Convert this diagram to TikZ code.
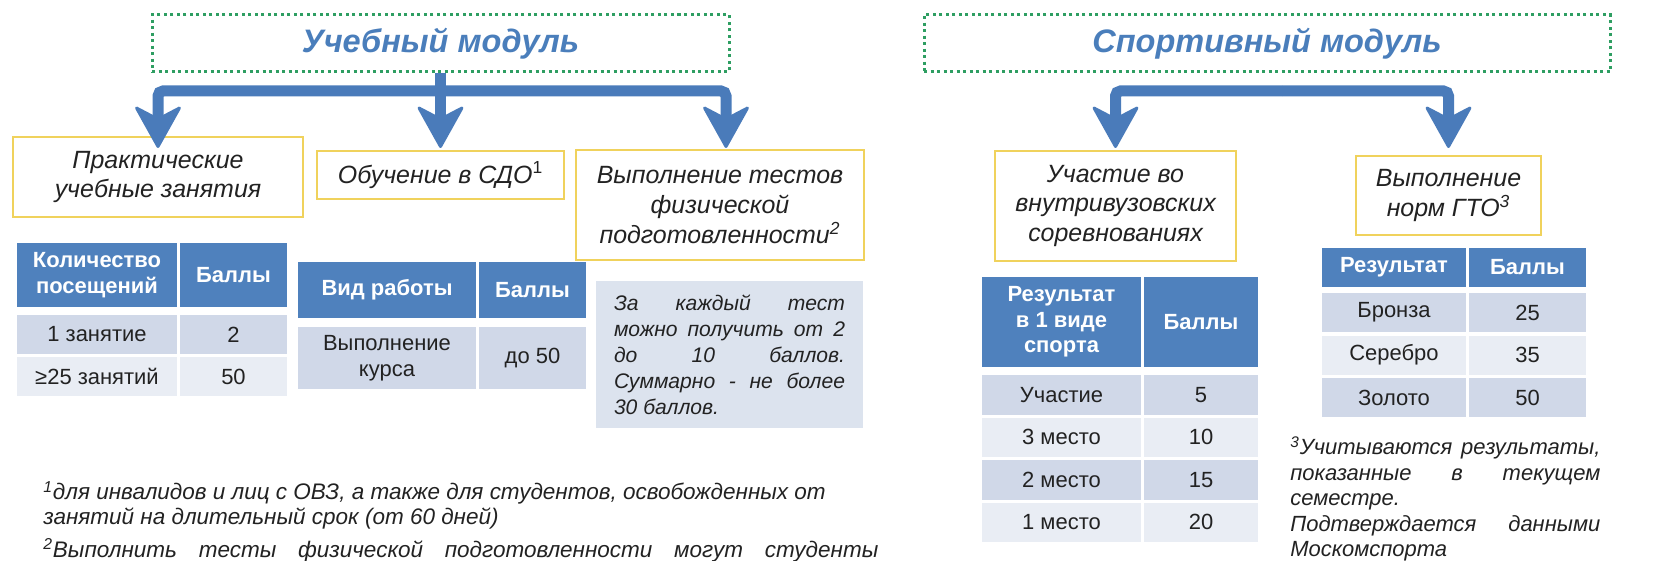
\documentclass[tikz,border=0pt]{standalone}
\usepackage{fontspec}
\setmainfont{Liberation Sans}
\usepackage{xcolor}
\usetikzlibrary{arrows.meta}

\definecolor{modblue}{HTML}{4A7EBB}
\definecolor{arrblue}{HTML}{4A7BBA}
\definecolor{dotgreen}{HTML}{2E9E62}
\definecolor{boxyellow}{HTML}{F0D25C}
\definecolor{hdrblue}{HTML}{4F81BD}
\definecolor{rowdark}{HTML}{D0D8E8}
\definecolor{rowlight}{HTML}{E9EDF4}
\definecolor{notegrey}{HTML}{DCE3EE}
\definecolor{ink}{HTML}{222222}

\begin{document}
\begin{tikzpicture}[x=0.2mm, y=-0.2mm,
	wh/.style 2 args={minimum width=#1*0.2mm, minimum height=#2*0.2mm},
	modbox/.style={draw=dotgreen, line width=0.6mm, dash pattern=on 0.6mm off 0.7mm, text=modblue, inner sep=0pt, font=\bfseries\itshape\fontsize{18.5}{21}\selectfont},
	itembox/.style={draw=boxyellow, line width=0.5mm, fill=white, text=ink, align=center, inner sep=0pt, font=\itshape\fontsize{14.2}{17}\selectfont},
	hcell/.style={fill=hdrblue, text=white, align=center, inner sep=0pt, font=\bfseries\fontsize{12.5}{14.5}\selectfont},
	bcell/.style={text=ink, align=center, inner sep=0pt, font=\fontsize{12.5}{14.5}\selectfont},
	notebox/.style={fill=notegrey, text=ink, text width=46.2mm, align=justify, inner sep=0pt, font=\itshape\fontsize{12}{14.8}\selectfont},
	footnote/.style={text=ink, inner sep=0pt, font=\itshape\fontsize{12.8}{13.8}\selectfont},
	bararrow/.style={draw=arrblue, line width=2.2mm, rounded corners=1mm, -{Stealth[length=9mm, width=10mm, inset=2.6mm, round, line width=0.6mm]}}]
		\useasboundingbox (0,0) rectangle (1653,561);
		\clip (0,0) rectangle (1653,561);
		% modules
		\node[modbox, wh={577}{57}] (lm) at (440.5,43.5) {Учебный модуль};
		\node[modbox, wh={686}{57}] (rm) at (1267,43.5) {Спортивный модуль};
		% kinds of work
		\node[itembox, wh={290}{80}] (p1) at (158,177) {Практические\\учебные занятия};
		\node[itembox, wh={247}{48}] (p2) at (440.5,175) {Обучение в СДО\textsuperscript{\upshape 1}};
		\node[itembox, wh={288}{110}] (p3) at (720,205) {Выполнение тестов\\физической\\подготовленности\textsuperscript{2}};
		\node[itembox, wh={241}{110}] (s1) at (1115.5,206) {Участие во\\внутривузовских\\соревнованиях};
		\node[itembox, wh={185}{79}] (s2) at (1448.5,195.5) {Выполнение\\норм ГТО\textsuperscript{3}};
		% arrows
		\coordinate (tips) at (0,148);
		\coordinate (lbar) at (440.5,91);
		\coordinate (rbar) at (1282,91);
		\draw[bararrow] (lm.south) -- (p2 |- tips);
		\draw[bararrow] (lbar) -| (p1 |- tips);
		\draw[bararrow] (lbar) -| ([xshift=1.2mm]p3.north |- tips);
		\draw[bararrow] (rbar) -| (s1 |- tips);
		\draw[bararrow] (rbar) -| (s2 |- tips);
		% table: visits
		\node[hcell, wh={160}{64}] (va) at (97,275) {Количество\\посещений};
		\node[hcell, wh={107}{64}] (vb) at (233.5,275) {Баллы};
		\node[bcell, fill=rowdark, wh={160}{39}] (va1) at (97,334.5) {1 занятие};
		\node[bcell, fill=rowdark, wh={107}{39}] (vb1) at (233.5,334.5) {2};
		\node[bcell, fill=rowlight, wh={160}{39}] (va2) at (97,376.5) {≥25 занятий};
		\node[bcell, fill=rowlight, wh={107}{39}] (vb2) at (233.5,376.5) {50};
		% table: distance course
		\node[hcell, wh={178}{56}] (ka) at (387,290) {Вид работы};
		\node[hcell, wh={107}{56}] (kb) at (532.5,290) {Баллы};
		\node[bcell, fill=rowdark, wh={178}{62}] (ka1) at (387,358) {Выполнение\\курса};
		\node[bcell, fill=rowdark, wh={107}{62}] (kb1) at (532.5,358) {до 50};
		% note on tests
		\node[notebox, wh={267}{147}] (tn) at (729.5,354.5) {За каждый тест\linebreak можно получить от 2\linebreak до 10 баллов.\linebreak Суммарно - не более\linebreak 30 баллов.};
		% table: competitions
		\node[hcell, wh={159}{90}] (ca) at (1061.5,322) {Результат\\в 1 виде\\спорта};
		\node[hcell, wh={114}{90}] (cb) at (1201,322) {Баллы};
		\foreach \res/\pts [count=\i] in {Участие/5, 3 место/10, 2 место/15, 1 место/20}{
			\pgfmathsetmacro\ry{394.75+42.5*(\i-1)}
			\ifodd\i \def\rowfill{rowdark}\else \def\rowfill{rowlight}\fi
			\node[bcell, fill=\rowfill, wh={159}{39.5}] (ca\i) at (1061.5,\ry) {\res};
			\node[bcell, fill=\rowfill, wh={114}{39.5}] (cb\i) at (1201,\ry) {\pts};
		}
		% table: GTO
		\node[hcell, wh={144}{39}] (ga) at (1394,267.5) {Результат};
		\node[hcell, wh={117}{39}] (gb) at (1527.5,267.5) {Баллы};
		\foreach \res/\pts [count=\i] in {Бронза/25, Серебро/35, Золото/50}{
			\pgfmathsetmacro\ry{312.5+42.5*(\i-1)}
			\ifodd\i \def\rowfill{rowdark}\else \def\rowfill{rowlight}\fi
			\node[bcell, fill=\rowfill, wh={144}{39}] (ga\i) at (1394,\ry) {\res};
			\node[bcell, fill=\rowfill, wh={117}{39}] (gb\i) at (1527.5,\ry) {\pts};
		}
		% footnotes
		\node[footnote, anchor=north west, text width=62mm, align=justify, font=\itshape\fontsize{12.5}{14.5}\selectfont] (f3) at (1290,436) {\textsuperscript{3}Учитываются результаты,\linebreak показанные в текущем\linebreak семестре.\par Подтверждается данными\linebreak Москомспорта};
		\node[footnote, anchor=north west, align=left] (f1) at (43,481) {\textsuperscript{1}для инвалидов и лиц с ОВЗ, а также для студентов, освобожденных от\\занятий на длительный срок (от 60 дней)};
		\node[footnote, anchor=base west] (f2) at (43,557) {\makebox[167mm][s]{\textsuperscript{2}Выполнить тесты физической подготовленности могут студенты}};
	\end{tikzpicture}
\end{document}
